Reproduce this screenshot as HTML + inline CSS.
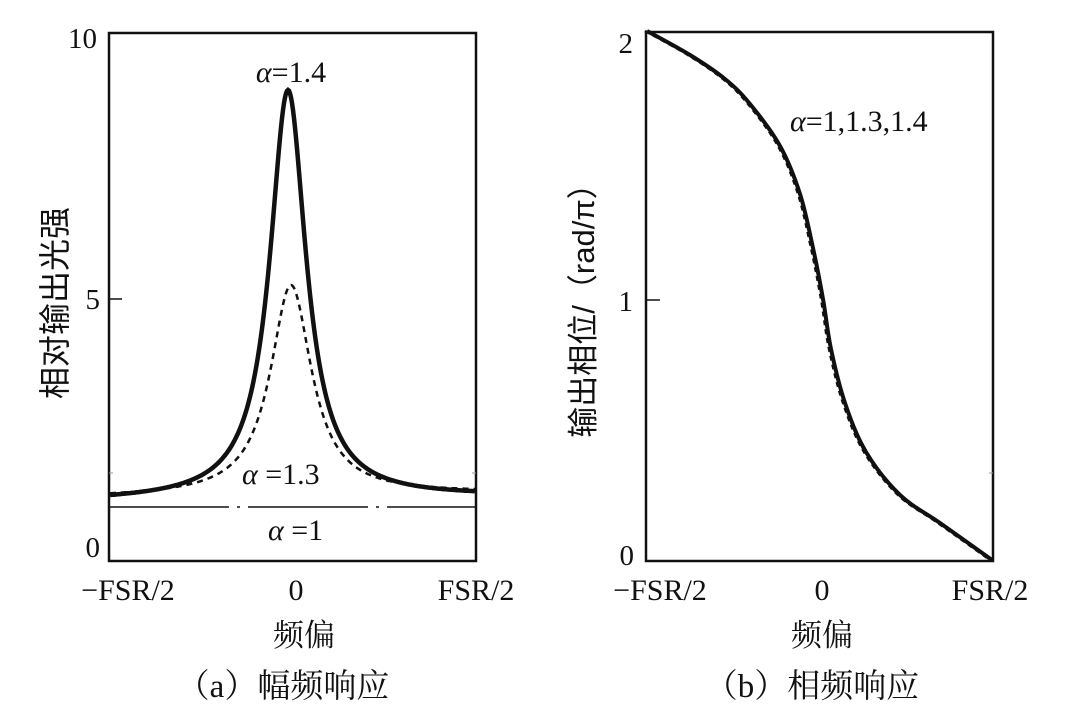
<!DOCTYPE html>
<html><head><meta charset="utf-8"><style>
html,body{margin:0;padding:0;background:#fff;}
svg{display:block;}
text{font-family:"Liberation Serif","Noto Serif CJK SC",serif;fill:#111;}
.cjk{font-family:"Liberation Sans","Noto Sans CJK SC",sans-serif;}
.cjks{font-family:"Liberation Serif","Noto Serif CJK SC",serif;}
</style></head><body>
<svg id="s" width="1069" height="717" viewBox="0 0 1069 717" xmlns="http://www.w3.org/2000/svg">
<rect width="1069" height="717" fill="#fff"/>
<rect x="109" y="33" width="367" height="528" fill="none" stroke="#111" stroke-width="2.5"/>
<line x1="109" y1="299" x2="122" y2="299" stroke="#111" stroke-width="1.5"/>
<line x1="109" y1="473" x2="113" y2="473" stroke="#999" stroke-width="1"/>
<line x1="472" y1="473" x2="476" y2="473" stroke="#999" stroke-width="1"/>
<line x1="109" y1="507" x2="476" y2="507" stroke="#111" stroke-width="1.5" stroke-dasharray="120 8 3 8"/>
<path id="c13" fill="none" stroke="#111" stroke-width="2.5" stroke-dasharray="6 5"/>
<path id="c14" fill="none" stroke="#111" stroke-width="4.5"/>
<text x="97" y="48" font-size="29" text-anchor="end">10</text>
<text x="100" y="309" font-size="29" text-anchor="end">5</text>
<text x="100" y="557" font-size="29" text-anchor="end">0</text>
<text x="291" y="82" font-size="30" text-anchor="middle"><tspan font-style="italic">α</tspan>=1.4</text>
<text x="242" y="484" font-size="30"><tspan font-style="italic">α</tspan> =1.3</text>
<text x="268" y="540" font-size="30"><tspan font-style="italic">α</tspan> =1</text>
<text x="128" y="600" font-size="30" text-anchor="middle">−FSR/2</text>
<text x="296" y="600" font-size="30" text-anchor="middle">0</text>
<text x="476" y="600" font-size="30" text-anchor="middle">FSR/2</text>
<text class="cjk" transform="translate(66,303) rotate(-90)" font-size="32" text-anchor="middle">相对输出光强</text>
<text class="cjks" x="304" y="646" font-size="31" text-anchor="middle">频偏</text>
<text class="cjks" x="283" y="697" font-size="33" text-anchor="middle">（a）幅频响应</text>
<rect x="646" y="32" width="347" height="529" fill="none" stroke="#111" stroke-width="2.5"/>
<line x1="646" y1="300" x2="660" y2="300" stroke="#111" stroke-width="1.5"/>
<line x1="989" y1="473" x2="993" y2="473" stroke="#999" stroke-width="1"/>
<path id="p2" fill="none" stroke="#111" stroke-width="2.5" stroke-dasharray="5 4"/>
<path id="p1" fill="none" stroke="#111" stroke-width="4"/>
<text x="633" y="53" font-size="29" text-anchor="end">2</text>
<text x="633" y="311" font-size="29" text-anchor="end">1</text>
<text x="634" y="565" font-size="29" text-anchor="end">0</text>
<text x="790" y="131" font-size="30"><tspan font-style="italic">α</tspan>=1,1.3,1.4</text>
<text x="660" y="600" font-size="30" text-anchor="middle">−FSR/2</text>
<text x="822" y="600" font-size="30" text-anchor="middle">0</text>
<text x="990" y="600" font-size="30" text-anchor="middle">FSR/2</text>
<text class="cjk" transform="translate(594,303) rotate(-90)" font-size="31" text-anchor="middle">输出相位/（rad/π）</text>
<text class="cjks" x="822" y="646" font-size="31" text-anchor="middle">频偏</text>
<text class="cjks" x="812" y="697" font-size="33" text-anchor="middle">（b）相频响应</text>
</svg>
<script>
function lor(x0,b,H,w){var d="";for(var x=110;x<=475;x+=1){var t=(x-x0)/w;var h=b+H/(1+t*t)+(x-x0)*0.012;d+=(x==110?"M":"L")+x+","+(561-h).toFixed(1);}return d;}
document.getElementById("c14").setAttribute("d",lor(288,62,409,22));
document.getElementById("c13").setAttribute("d",lor(291,66,210,25));
var pts=[[647,31],[690,55],[725,79],[750,104],[780,146],[800,194],[813,248],[823,299],[831,349],[845,403],[866,452],[900,495],[940,523],[992,560]];
function cat(p,dx){var d="M"+(p[0][0]+dx)+","+p[0][1];for(var i=0;i<p.length-1;i++){var p0=p[i>0?i-1:i],p1=p[i],p2=p[i+1],p3=p[i+2<p.length?i+2:i+1];
var c1x=p1[0]+(p2[0]-p0[0])/6,c1y=p1[1]+(p2[1]-p0[1])/6,c2x=p2[0]-(p3[0]-p1[0])/6,c2y=p2[1]-(p3[1]-p1[1])/6;
d+="C"+(c1x+dx)+","+c1y+" "+(c2x+dx)+","+c2y+" "+(p2[0]+dx)+","+p2[1];}return d;}
document.getElementById("p1").setAttribute("d",cat(pts,0));
document.getElementById("p2").setAttribute("d",cat(pts,-2));
</script>
</body></html>
